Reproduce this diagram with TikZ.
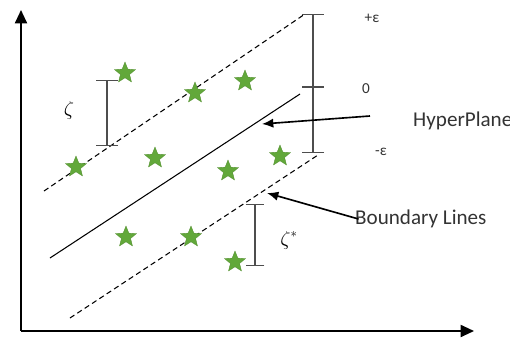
\documentclass[tikz,border=0pt]{standalone}
\usepackage{fontspec}
\setmainfont{Carlito}
\usetikzlibrary{arrows.meta,positioning,shapes.geometric}
\definecolor{StarGreen}{HTML}{62A83A}
\definecolor{BarGray}{HTML}{4D4D4D}

\begin{document}
\begin{tikzpicture}[x=0.03cm,y=-0.03cm,
  axis/.style={line width=1.6pt,-{Triangle[length=0.4cm,width=0.36cm]}},
  bound/.style={line width=0.9pt,dash pattern=on 4.5pt off 3pt},
  plane/.style={line width=0.9pt},
  errbar/.style={draw=BarGray,line width=1.2pt,{Bar[width=0.66cm,line width=1.2pt]}-{Bar[width=0.66cm,line width=1.2pt]}},
  pointer/.style={line width=1.4pt,-{Latex[length=0.34cm,width=0.28cm]}},
  pt/.style={star,star points=5,star point ratio=2.3,minimum size=0.66cm,inner sep=0pt,fill=StarGreen,draw=StarGreen!85!black,line width=0.3pt},
  lbl/.style={font=\fontsize{18}{21}\selectfont,text=black!80,inner sep=0pt,anchor=west},
  tag/.style={font=\fontsize{13}{15}\selectfont,text=black!80,inner sep=0pt},
]
\useasboundingbox (0,0) rectangle (510,338);

% axes
\coordinate (o) at (21,331);
\coordinate (ytop) at (21,10);
\coordinate (xend) at (474,331);
\draw[axis] (o) -- (ytop);
\draw[axis] (o) -- (xend);

% hyperplane and boundary lines
\coordinate (up1) at (44,191);
\coordinate (up2) at (305,14);
\coordinate (hp1) at (50,258);
\coordinate (hp2) at (300,94);
\coordinate (lo1) at (70,318);
\coordinate (lo2) at (318,155);
\draw[bound] (up1) -- (up2);
\draw[plane] (hp1) -- (hp2);
\draw[bound] (lo1) -- (lo2);

% data points
\node[pt] (s1) at (125,73) {};
\node[pt] (s2) at (195,93) {};
\node[pt] (s3) at (245,81) {};
\node[pt] (s4) at (76,167) {};
\node[pt] (s5) at (155,158) {};
\node[pt] (s6) at (228,171) {};
\node[pt] (s7) at (280,156) {};
\node[pt] (s8) at (126,237) {};
\node[pt] (s9) at (191,237) {};
\node[pt] (s10) at (235,262) {};

% epsilon tube
\coordinate (etop) at (313,14);
\coordinate (emid) at (313,87);
\coordinate (ebot) at (313,153);
\draw[errbar] (etop) -- (ebot);
\draw[draw=BarGray,line width=1.2pt] ([xshift=-0.33cm]emid) -- ([xshift=0.33cm]emid);
\node[tag] (plus) at (372,18) {+ε};
\node[tag] (zero) at (366,89) {0};
\node[tag] (minus) at (381,152) {-ε};

% slack bars
\coordinate (za) at (107,80);
\coordinate (zb) at (107,146);
\draw[errbar] (za) -- (zb);
\node[font=\fontsize{16}{18}\selectfont] (zeta) at (69,110) {$\zeta$};
\coordinate (zsa) at (255,204);
\coordinate (zsb) at (255,266);
\draw[errbar,{Bar[width=0.56cm,line width=1.2pt]}-{Bar[width=0.56cm,line width=1.2pt]}] (zsa) -- (zsb);
\node[font=\fontsize{16}{18}\selectfont] (zetas) at (289,240) {$\zeta^{*}$};

% labels
\node[lbl] (hp) at (413,121) {HyperPlane};
\node[lbl] (bl) at (355,219) {Boundary Lines};
\coordinate (hptail) at (370,116);
\coordinate (hphead) at (262,124);
\coordinate (blhead) at (267,193);
\draw[pointer] (hptail) -- (hphead);
\draw[pointer] ([xshift=3]bl.west) -- (blhead);
\end{tikzpicture}
\end{document}
